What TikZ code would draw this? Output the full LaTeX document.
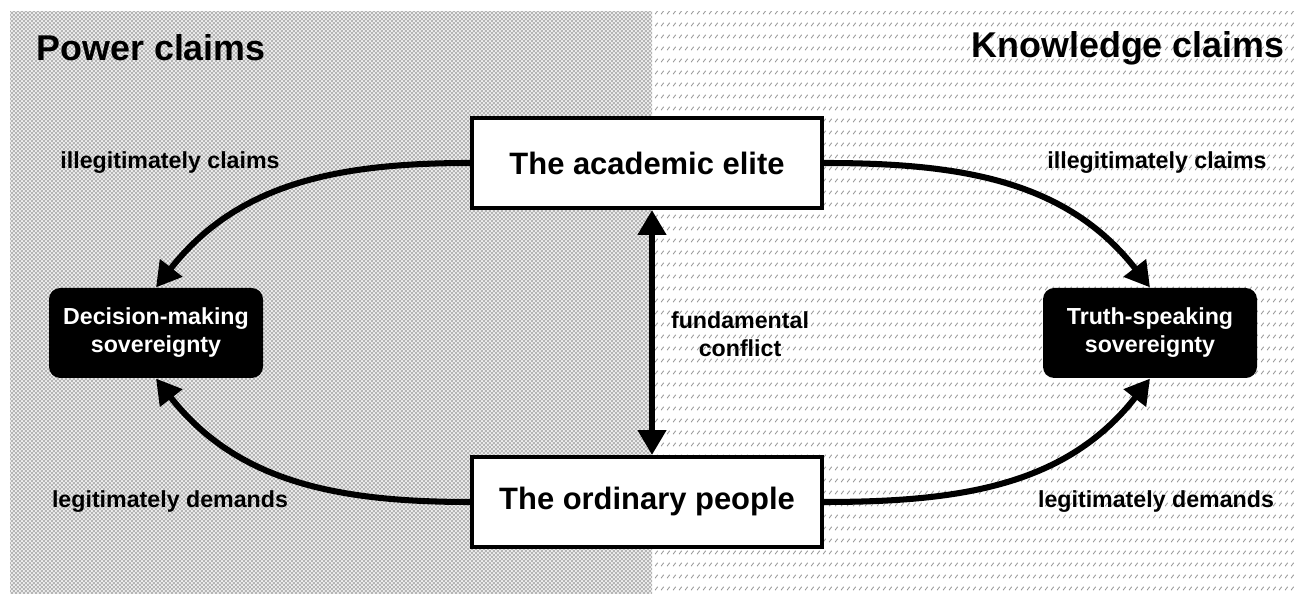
\documentclass[tikz,border=0pt]{standalone}
\usepackage{fontspec}
\setmainfont{Liberation Sans}
\usetikzlibrary{arrows.meta,patterns.meta}

% fine grey checker for the power side
\tikzdeclarepattern{
  name=checkgrey,
  type=colored,
  bottom left={(0pt,0pt)},
  top right={(2.84pt,2.84pt)},
  tile size={(2.84pt,2.84pt)},
  code={
    \fill[gray!14] (0pt,0pt) rectangle (2.84pt,2.84pt);
    \fill[gray!58] (0pt,0pt) rectangle (1.42pt,1.42pt);
    \fill[gray!58] (1.42pt,1.42pt) rectangle (2.84pt,2.84pt);
  }
}
% rows of small slashes for the knowledge side
\tikzdeclarepattern{
  name=slashrows,
  type=colored,
  bottom left={(0pt,0pt)},
  top right={(4.27pt,8.3pt)},
  tile size={(4.27pt,8.3pt)},
  code={
    \draw[gray!80, line width=0.7pt] (0.9pt,2.8pt) -- (3.1pt,5.3pt);
  }
}

\begin{document}
\begin{tikzpicture}[thick,
	actor/.style={draw=black, line width=2.8pt, fill=white, minimum width=8.75cm,
		minimum height=2.25cm, font=\fontsize{22}{26}\selectfont\bfseries},
	sovereign/.style={fill=black, text=white, rounded corners=0.28cm, minimum width=5.35cm,
		minimum height=2.25cm, align=center, font=\fontsize{16.5}{20}\selectfont\bfseries},
	claim/.style={inner sep=0pt, align=center, font=\fontsize{16.5}{20}\selectfont\bfseries},
	side/.style={inner sep=0pt, font=\fontsize{25.5}{30}\selectfont\bfseries},
	link/.style={line width=4.3pt, -{Triangle[length=0.62cm, width=0.68cm]}}]

	\useasboundingbox (0, 0) rectangle (32.4, 14.85);

	% background
	\fill[pattern=checkgrey] (0.25, 0) rectangle (16.3, 14.55);
	\fill[pattern=slashrows] (16.3, 0) rectangle (32.4, 14.55);
	\node[side, anchor=west] (power) at (0.9, 13.65) {Power claims};
	\node[side, anchor=east] (knowledge) at (32.125, 13.65) {Knowledge claims};

	% actors
	\node[actor] (elite) at (16.175, 10.775) {The academic elite};
	\node[actor] (people) at (16.175, 2.3) {The ordinary people};

	% sovereignties
	\node[sovereign] (decision) at (3.9, 6.525) {Decision-making\\sovereignty};
	\node[sovereign] (truth) at (28.75, 6.525) {Truth-speaking\\sovereignty};

	% claims
	\draw[link] (elite.west) to[out=180, in=52] (decision.north);
	\draw[link] (people.west) to[out=180, in=-52] (decision.south);
	\draw[link] (elite.east) to[out=0, in=128] (truth.north);
	\draw[link] (people.east) to[out=0, in=-128] (truth.south);
	\draw[link, {Triangle[length=0.62cm, width=0.68cm]}-{Triangle[length=0.62cm, width=0.68cm]}]
		([xshift=0.125cm]elite.south) -- ([xshift=0.125cm]people.north);

	% labels
	\node[claim] (illeftlabel) at (4.25, 10.775) {illegitimately claims};
	\node[claim] (ilrightlabel) at (28.925, 10.775) {illegitimately claims};
	\node[claim] (leftlabel) at (4.25, 2.3) {legitimately demands};
	\node[claim] (rightlabel) at (28.9, 2.3) {legitimately demands};
	\node[claim] (conflict) at (18.5, 6.5) {fundamental\\conflict};
\end{tikzpicture}
\end{document}
